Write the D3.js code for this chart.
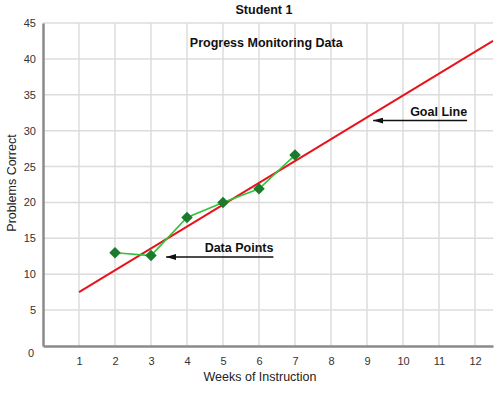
<!DOCTYPE html>
<html>
<head>
<meta charset="utf-8">
<script src="https://cdn.jsdelivr.net/npm/d3@7"></script>
<style>
  body { margin: 0; background: #fff; }
  svg { font-family: Arial, "Liberation Sans", sans-serif; }
</style>
</head>
<body>
<svg id="chart" width="500" height="393"></svg>
<script>
// Data
const weeks = [2, 3, 4, 5, 6, 7];
const scores = [13, 12.6, 17.9, 20, 21.9, 26.6];
const goalWeeks = [1, 12.5];
const goalScores = [7.5, 42.5];
const xTicks = [1, 2, 3, 4, 5, 6, 7, 8, 9, 10, 11, 12];
const yTicks = [5, 10, 15, 20, 25, 30, 35, 40, 45];

const margin = { top: 23, right: 7, bottom: 47, left: 43 },
    width = 500 - margin.left - margin.right,
    height = 393 - margin.top - margin.bottom;

const svg = d3.select("#chart")
    .append("g")
    .attr("transform", `translate(${margin.left},${margin.top})`);

const x = d3.scaleLinear().domain([0, 12.5]).range([0, width]);
const y = d3.scaleLinear().domain([0, 45]).range([height, 0]);

// Grid lines
svg.append("g")
    .selectAll("line")
    .data(xTicks)
    .enter().append("line")
    .attr("x1", d => x(d)).attr("x2", d => x(d))
    .attr("y1", 0).attr("y2", height)
    .attr("stroke", "#dcdcdc")
    .attr("stroke-width", 1.5);

svg.append("g")
    .selectAll("line")
    .data(yTicks)
    .enter().append("line")
    .attr("x1", 0).attr("x2", width)
    .attr("y1", d => y(d)).attr("y2", d => y(d))
    .attr("stroke", "#dcdcdc")
    .attr("stroke-width", 1.5);

// Axes
const xAxis = svg.append("g")
    .attr("transform", `translate(0,${height})`)
    .call(d3.axisBottom(x).tickValues(xTicks).tickSize(0).tickPadding(11));
const yAxis = svg.append("g")
    .call(d3.axisLeft(y).tickValues(yTicks).tickSize(0).tickPadding(7));

[xAxis, yAxis].forEach(a => {
    a.select(".domain").attr("stroke", "#8a8a8a").attr("stroke-width", 2.5);
    a.selectAll("text")
        .attr("fill", "#333")
        .style("font-size", "11px")
        .style("font-family", "Arial, 'Liberation Sans', sans-serif");
});

// corner zero
svg.append("text")
    .attr("x", x(0) - 9)
    .attr("y", y(0) + 11)
    .attr("text-anchor", "end")
    .attr("fill", "#333")
    .style("font-size", "11px")
    .text("0");

// Goal line
const goal = goalWeeks.map((w, i) => ({ w, s: goalScores[i] }));
const line = d3.line().x(d => x(d.w)).y(d => y(d.s));
svg.append("path")
    .datum(goal)
    .attr("fill", "none")
    .attr("stroke", "#e8131b")
    .attr("stroke-width", 2)
    .attr("d", line);

// Data line
const points = weeks.map((w, i) => ({ w, s: scores[i] }));
svg.append("path")
    .datum(points)
    .attr("fill", "none")
    .attr("stroke", "#33c23a")
    .attr("stroke-width", 1.6)
    .attr("d", line);

svg.selectAll(".pt")
    .data(points)
    .enter().append("path")
    .attr("class", "pt")
    .attr("d", d3.symbol().type(d3.symbolSquare).size(66))
    .attr("transform", d => `translate(${x(d.w)},${y(d.s)}) rotate(45)`)
    .attr("fill", "#1b7a2c");

// Arrow marker
const defs = d3.select("#chart").append("defs");
defs.append("marker")
    .attr("id", "arrow")
    .attr("viewBox", "0 0 10 6")
    .attr("refX", 10).attr("refY", 3)
    .attr("markerWidth", 10).attr("markerHeight", 6)
    .attr("markerUnits", "userSpaceOnUse")
    .attr("orient", "auto")
    .append("path")
    .attr("d", "M0,0 L10,3 L0,6 Z")
    .attr("fill", "#111");

// Annotations
svg.append("text")
    .attr("x", x(6.2))
    .attr("y", y(41.6))
    .attr("text-anchor", "middle")
    .style("font-size", "12.5px")
    .style("font-weight", "bold")
    .attr("fill", "#111")
    .text("Progress Monitoring Data");

svg.append("text")
    .attr("x", x(11.78))
    .attr("y", y(32))
    .attr("text-anchor", "end")
    .style("font-size", "12.5px")
    .style("font-weight", "bold")
    .attr("fill", "#111")
    .text("Goal Line");
svg.append("line")
    .attr("x1", x(11.78)).attr("y1", y(31.4))
    .attr("x2", x(9.17)).attr("y2", y(31.4))
    .attr("stroke", "#111").attr("stroke-width", 1.5)
    .attr("marker-end", "url(#arrow)");

svg.append("text")
    .attr("x", x(6.4))
    .attr("y", y(13.1))
    .attr("text-anchor", "end")
    .style("font-size", "12.5px")
    .style("font-weight", "bold")
    .attr("fill", "#111")
    .text("Data Points");
svg.append("line")
    .attr("x1", x(6.4)).attr("y1", y(12.4))
    .attr("x2", x(3.42)).attr("y2", y(12.4))
    .attr("stroke", "#111").attr("stroke-width", 1.5)
    .attr("marker-end", "url(#arrow)");

// Titles
d3.select("#chart").append("text")
    .attr("x", 264)
    .attr("y", 14)
    .attr("text-anchor", "middle")
    .style("font-size", "12.5px")
    .style("font-weight", "bold")
    .attr("fill", "#111")
    .text("Student 1");

d3.select("#chart").append("text")
    .attr("x", 260)
    .attr("y", 381)
    .attr("text-anchor", "middle")
    .style("font-size", "12.5px")
    .attr("fill", "#222")
    .text("Weeks of Instruction");

d3.select("#chart").append("text")
    .attr("transform", "rotate(-90)")
    .attr("x", -183)
    .attr("y", 16)
    .attr("text-anchor", "middle")
    .style("font-size", "12.5px")
    .attr("fill", "#222")
    .text("Problems Correct");
</script>
</body>
</html>
